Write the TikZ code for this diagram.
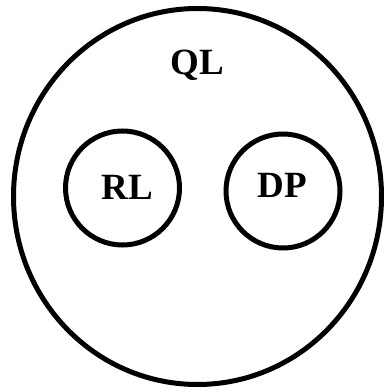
\documentclass[tikz,border=0pt]{standalone}
\usepackage{fontspec}
\setmainfont{Liberation Serif}
\usetikzlibrary{shapes.geometric}
\begin{document}
\begin{tikzpicture}[x=1pt,y=1pt,
  ring/.style={draw=black, line width=5pt, inner sep=0pt},
  lbl/.style={font=\fontsize{37}{40}\selectfont\bfseries, inner sep=0pt}]
\useasboundingbox (0,0) rectangle (383,388);
\node[ring, ellipse, minimum width=368pt, minimum height=376pt] (outer) at (197.5,191.5) {};
\node[ring, circle, minimum size=114pt] (rl) at (122.5,200) {};
\node[ring, circle, minimum size=114pt] (dp) at (283,197) {};
\node[lbl] (qltext) at (197,323) {QL};
\node[lbl] (rltext) at (127,201) {RL};
\node[lbl] (dptext) at (282,203) {DP};
\end{tikzpicture}
\end{document}
